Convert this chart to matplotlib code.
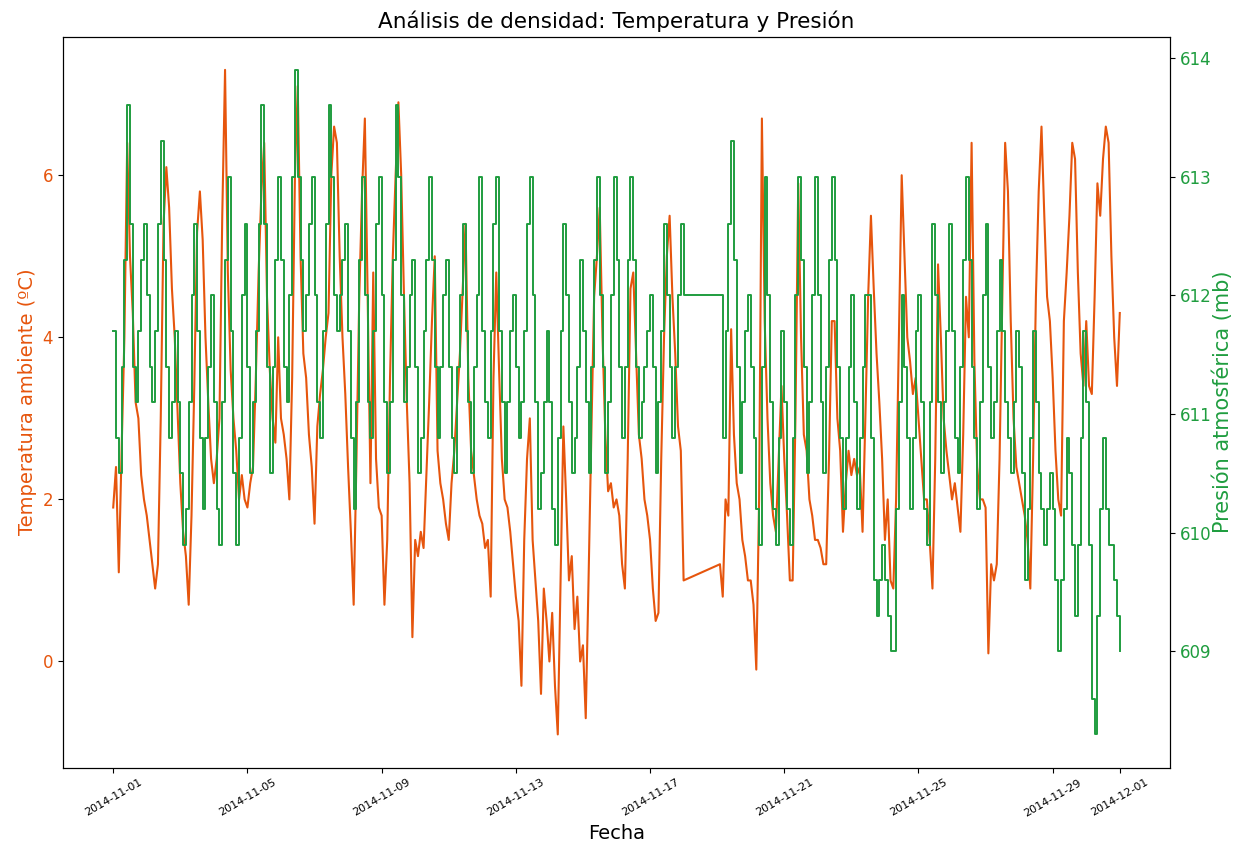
import matplotlib
matplotlib.use('Agg')
import matplotlib.pyplot as plt
import matplotlib.dates as mdates
import pandas as pd

# lecturas cada 2 horas desde 2014-11-01 00:00 (None = hueco sin datos)
fechas = pd.date_range('2014-11-01 00:00', periods=361, freq='2h')

temperatura = [
    1.9, 2.4, 1.1, 2.6, 4.0, 6.4, 5.0, 4.3, 3.2, 3.0, 2.3, 2.0,
    1.8, 1.5, 1.2, 0.9, 1.2, 3.0, 5.4, 6.1, 5.6, 4.6, 4.0, 3.1,
    2.2, 1.6, 1.3, 0.7, 1.8, 3.4, 5.3, 5.8, 5.2, 4.0, 3.2, 2.5,
    2.2, 2.5, 3.0, 5.5, 7.3, 4.8, 3.6, 3.0, 2.6, 2.0, 2.3, 2.0,
    1.9, 2.2, 2.4, 3.5, 4.8, 5.8, 6.4, 4.5, 3.6, 3.0, 2.7, 4.0,
    3.0, 2.8, 2.5, 2.0, 3.5, 6.0, 7.1, 5.0, 3.8, 3.5, 2.8, 2.4,
    1.7, 2.9, 3.3, 3.6, 4.0, 4.3, 6.0, 6.6, 6.4, 5.0, 4.0, 3.3,
    2.4, 1.6, 0.7, 2.5, 4.5, 5.8, 6.7, 4.5, 2.2, 4.8, 2.5, 1.9,
    1.8, 0.7, 1.5, 3.5, 5.0, 6.0, 6.9, 6.0, 4.5, 3.2, 2.2, 0.3,
    1.5, 1.3, 1.6, 1.4, 2.3, 3.2, 4.2, 5.0, 2.6, 2.2, 2.0, 1.7,
    1.5, 2.2, 2.6, 3.2, 3.8, 4.6, 5.4, 3.5, 2.6, 2.3, 2.0, 1.8,
    1.7, 1.4, 1.5, 0.8, 3.5, 4.8, 3.6, 2.5, 2.0, 1.9, 1.6, 1.2,
    0.8, 0.5, -0.3, 1.5, 2.5, 3.0, 1.5, 1.0, 0.5, -0.4, 0.9, 0.5,
    0.0, 0.6, -0.3, -0.9, 1.0, 2.9, 2.0, 1.0, 1.3, 0.4, 0.8, 0.0,
    0.2, -0.7, 1.0, 2.8, 4.5, 5.0, 5.6, 4.0, 2.8, 2.1, 2.2, 1.9,
    2.0, 1.8, 1.2, 0.9, 2.5, 4.6, 4.8, 3.8, 2.8, 2.5, 2.0, 1.8,
    1.5, 0.9, 0.5, 0.6, 2.5, 4.0, 5.0, 5.5, 4.5, 3.8, 2.9, 2.6,
    1.0, None, None, None, None, None, None, None, None, None, None, None,
    None, 1.2, 0.8, 2.0, 1.8, 4.1, 2.8, 2.2, 2.0, 1.5, 1.3, 1.0,
    1.0, 0.7, -0.1, 2.0, 6.7, 4.2, 3.0, 2.2, 1.8, 1.6, 2.5, 3.4,
    2.5, 1.8, 1.0, 1.0, 3.0, 5.9, 4.0, 2.8, 2.6, 2.0, 1.8, 1.5,
    1.5, 1.4, 1.2, 1.2, 2.5, 4.2, 4.2, 3.0, 2.6, 1.6, 2.2, 2.6,
    2.3, 2.5, 2.3, 2.4, 1.6, 3.0, 4.5, 5.5, 4.6, 3.8, 3.2, 2.5,
    1.5, 2.0, 1.0, 0.9, 2.0, 4.0, 6.0, 5.0, 4.0, 3.7, 3.3, 3.5,
    3.0, 2.5, 2.0, 2.0, 1.5, 0.9, 2.5, 4.9, 4.0, 3.0, 2.6, 2.3,
    2.0, 2.2, 1.9, 1.6, 2.8, 4.5, 4.0, 6.4, 3.7, 2.4, 2.0, 2.0,
    1.9, 0.1, 1.2, 1.0, 1.2, 2.5, 4.5, 6.4, 5.8, 4.2, 3.0, 2.4,
    2.2, 2.0, 1.8, 1.5, 0.9, 2.5, 4.5, 5.8, 6.6, 5.5, 4.5, 4.2,
    3.5, 2.6, 2.0, 1.8, 4.2, 4.8, 5.5, 6.4, 6.2, 4.8, 3.8, 3.4,
    4.2, 3.4, 3.3, 4.5, 5.9, 5.5, 6.2, 6.6, 6.4, 5.0, 4.0, 3.4, 4.3,
]

presion = [
    611.7, 610.8, 610.5, 611.4, 612.3, 613.6, 612.6, 611.4, 611.1, 611.7, 612.3, 612.6,
    612.0, 611.4, 611.1, 611.7, 612.6, 613.3, 612.3, 611.4, 610.8, 611.1, 611.7, 611.1,
    610.5, 609.9, 610.2, 611.1, 612.0, 612.6, 611.7, 610.8, 610.2, 610.8, 611.4, 612.0,
    611.1, 610.2, 609.9, 611.1, 612.3, 613.0, 611.7, 610.5, 609.9, 610.8, 612.0, 612.6,
    611.4, 610.5, 611.1, 611.7, 612.6, 613.6, 612.6, 611.4, 610.5, 611.4, 612.3, 613.0,
    612.3, 611.4, 611.1, 612.0, 613.0, 613.9, 613.0, 612.3, 611.7, 612.0, 612.6, 613.0,
    612.0, 611.1, 610.8, 611.7, 612.6, 613.6, 613.0, 612.0, 611.7, 612.0, 612.3, 612.6,
    611.7, 610.8, 610.2, 611.1, 612.3, 613.0, 612.0, 611.1, 610.8, 611.7, 612.6, 613.0,
    612.0, 611.1, 610.5, 611.1, 612.3, 613.6, 613.0, 612.0, 611.1, 611.4, 612.0, 612.3,
    611.4, 610.5, 610.8, 611.7, 612.3, 613.0, 612.3, 611.4, 610.8, 611.4, 612.0, 612.3,
    611.4, 610.8, 610.5, 611.4, 612.0, 612.6, 611.7, 611.1, 610.5, 611.4, 612.0, 613.0,
    611.7, 611.1, 610.8, 611.7, 612.6, 613.0, 611.7, 611.1, 610.5, 611.1, 611.7, 612.0,
    611.4, 610.8, 611.1, 611.7, 612.6, 613.0, 612.0, 611.1, 610.2, 610.5, 611.1, 611.7,
    611.1, 610.2, 609.9, 610.8, 611.7, 612.6, 612.0, 611.1, 610.5, 610.8, 611.4, 612.3,
    611.7, 611.1, 610.5, 611.4, 612.3, 613.0, 612.0, 611.4, 610.5, 611.1, 612.0, 613.0,
    612.3, 611.4, 610.8, 611.4, 612.3, 613.0, 612.3, 611.4, 610.8, 611.1, 611.4, 611.7,
    612.0, 611.4, 610.5, 611.1, 611.7, 612.6, 612.0, 611.4, 610.8, 611.4, 612.0, 612.6,
    612.0, None, None, None, None, None, None, None, None, None, None, None,
    None, 612.0, 610.8, 611.7, 612.6, 613.3, 612.3, 611.4, 610.5, 611.1, 611.7, 612.0,
    611.4, 610.8, 610.2, 609.9, 611.4, 613.0, 612.0, 611.1, 610.2, 609.9, 610.8, 611.7,
    611.1, 610.2, 609.9, 610.8, 612.0, 613.0, 612.3, 611.4, 610.5, 611.1, 612.0, 613.0,
    612.0, 611.1, 610.5, 611.4, 612.3, 613.0, 612.3, 611.4, 610.8, 610.2, 610.8, 611.4,
    612.0, 611.1, 610.2, 610.8, 611.4, 612.0, 612.0, 610.8, 609.6, 609.3, 609.6, 609.9,
    609.6, 609.3, 609.0, 609.0, 610.2, 611.1, 612.0, 611.4, 610.8, 610.2, 610.8, 611.7,
    612.0, 611.1, 610.2, 609.9, 611.1, 612.6, 612.0, 611.1, 610.5, 611.1, 611.7, 612.6,
    611.7, 610.8, 610.5, 611.4, 612.3, 613.0, 612.3, 611.4, 610.8, 610.2, 611.1, 612.0,
    612.6, 611.4, 610.8, 611.1, 611.7, 612.3, 611.7, 611.1, 610.8, 610.5, 611.1, 611.7,
    611.4, 610.5, 609.6, 610.2, 610.8, 611.7, 611.1, 610.5, 610.2, 609.9, 610.2, 610.5,
    610.2, 609.6, 609.0, 609.6, 610.2, 610.8, 610.5, 609.9, 609.3, 609.9, 610.8, 611.7,
    611.1, 609.9, 608.6, 608.3, 609.3, 610.2, 610.8, 610.2, 609.9, 609.9, 609.6, 609.3, 609.0,
]

naranja = '#e6550d'
verde = '#1f9d3f'

# se quitan las horas sin datos para que la linea las una
df = pd.DataFrame({'temp': temperatura, 'presion': presion}, index=fechas).dropna()

fig, ax1 = plt.subplots(figsize=(12.33, 8.52), dpi=100)
fig.subplots_adjust(left=0.051, right=0.949, top=0.957, bottom=0.099)

ax1.plot(df.index, df['temp'], color=naranja, lw=1.5)
ax1.set_ylabel('Temperatura ambiente (ºC)', color=naranja, fontsize=14)
ax1.tick_params(axis='y', labelcolor=naranja, labelsize=12)

ax2 = ax1.twinx()
ax2.plot(df.index, df['presion'], color=verde, lw=1.4, drawstyle='steps-post')
ax2.set_ylabel('Presión atmosférica (mb)', color=verde, fontsize=15, labelpad=1)
ax2.tick_params(axis='y', labelcolor=verde, labelsize=12)

ax1.xaxis.set_major_locator(mdates.DayLocator(bymonthday=[1, 5, 9, 13, 17, 21, 25, 29]))
ax1.xaxis.set_major_formatter(mdates.DateFormatter('%Y-%m-%d'))
plt.setp(ax1.get_xticklabels(), rotation=30, fontsize=8)
ax1.set_xlabel('Fecha', fontsize=14)
ax1.set_title('Análisis de densidad: Temperatura y Presión', fontsize=15.5)

fig.savefig('out.png')
